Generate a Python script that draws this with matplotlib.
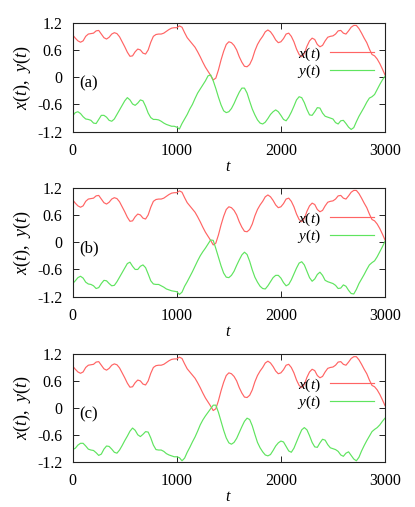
import numpy as np
import matplotlib
matplotlib.use("Agg")
import matplotlib.pyplot as plt

# ---------------- data (step 25 in t) ----------------
t_start, t_stop, t_step = 0, 3000, 25
t = np.arange(t_start, t_stop + t_step, t_step)

x_t = [0.93, 0.86, 0.80, 0.77, 0.80, 0.90, 0.95, 0.96, 0.97, 1.02,
       1.03, 0.95, 0.87, 0.84, 0.88, 0.95, 0.98, 0.96, 0.89, 0.78,
       0.67, 0.55, 0.46, 0.47, 0.56, 0.62, 0.60, 0.53, 0.51, 0.60,
       0.77, 0.90, 0.94, 0.95, 0.95, 0.97, 1.01, 1.05, 1.08, 1.09,
       1.09, 1.13, 1.10, 0.98, 0.87, 0.80, 0.73, 0.66, 0.56, 0.45,
       0.33, 0.22, 0.13, 0.04, -0.06, -0.02, 0.16, 0.38, 0.57, 0.72,
       0.78, 0.76, 0.70, 0.60, 0.45, 0.33, 0.24, 0.23, 0.28, 0.40,
       0.58, 0.72, 0.82, 0.90, 1.00, 1.04, 1.00, 0.92, 0.82, 0.76,
       0.78, 0.85, 0.95, 0.97, 0.90, 0.78, 0.62, 0.50, 0.45, 0.52,
       0.68, 0.80, 0.86, 0.83, 0.72, 0.67, 0.70, 0.80, 0.88, 0.90,
       0.91, 0.95, 1.02, 1.03, 0.97, 0.95, 1.02, 1.10, 1.14, 1.14,
       1.07, 0.97, 0.86, 0.76, 0.62, 0.50, 0.47, 0.40, 0.30, 0.18,
       0.05]

y_a = [-0.85, -0.78, -0.76, -0.80, -0.87, -0.92, -0.93, -0.95, -1.01, -1.02,
       -0.93, -0.84, -0.84, -0.88, -0.95, -0.97, -0.92, -0.82, -0.72, -0.62,
       -0.52, -0.45, -0.50, -0.59, -0.62, -0.57, -0.50, -0.52, -0.64, -0.79,
       -0.89, -0.93, -0.93, -0.94, -0.97, -1.01, -1.04, -1.06, -1.08, -1.08,
       -1.10, -1.14, -1.02, -0.92, -0.82, -0.70, -0.60, -0.47, -0.35, -0.26,
       -0.17, -0.08, 0.03, 0.05, -0.08, -0.25, -0.44, -0.61, -0.74, -0.78,
       -0.76, -0.69, -0.58, -0.45, -0.33, -0.24, -0.24, -0.35, -0.53, -0.70,
       -0.83, -0.94, -1.01, -1.03, -0.99, -0.91, -0.82, -0.76, -0.72, -0.76,
       -0.84, -0.93, -0.96, -0.88, -0.77, -0.64, -0.50, -0.43, -0.45, -0.56,
       -0.71, -0.83, -0.84, -0.76, -0.67, -0.68, -0.79, -0.86, -0.88, -0.90,
       -0.92, -1.00, -1.03, -0.96, -0.95, -1.02, -1.10, -1.15, -1.11, -0.98,
       -0.86, -0.76, -0.66, -0.55, -0.46, -0.43, -0.38, -0.27, -0.16, -0.06,
       0.02]

y_b = [-0.91, -0.85, -0.78, -0.75, -0.79, -0.88, -0.92, -0.93, -0.96, -1.02,
       -1.00, -0.91, -0.84, -0.85, -0.91, -0.96, -0.95, -0.87, -0.77, -0.67,
       -0.57, -0.47, -0.44, -0.53, -0.60, -0.60, -0.53, -0.50, -0.56, -0.70,
       -0.85, -0.92, -0.93, -0.93, -0.96, -0.99, -1.03, -1.05, -1.07, -1.08,
       -1.09, -1.15, -1.10, -0.97, -0.87, -0.76, -0.65, -0.53, -0.41, -0.30,
       -0.21, -0.13, -0.04, 0.05, 0.04, -0.14, -0.33, -0.52, -0.68, -0.77,
       -0.78, -0.73, -0.64, -0.51, -0.39, -0.28, -0.22, -0.27, -0.42, -0.61,
       -0.77, -0.88, -0.97, -1.02, -1.03, -0.96, -0.87, -0.78, -0.73, -0.73,
       -0.79, -0.89, -0.96, -0.93, -0.83, -0.70, -0.57, -0.46, -0.43, -0.50,
       -0.64, -0.78, -0.86, -0.81, -0.71, -0.66, -0.73, -0.84, -0.87, -0.89,
       -0.91, -0.95, -1.02, -1.01, -0.94, -0.97, -1.06, -1.13, -1.14, -1.04,
       -0.91, -0.81, -0.71, -0.60, -0.50, -0.45, -0.41, -0.32, -0.21, -0.10,
       0.02]

y_c = [-0.93, -0.90, -0.83, -0.79, -0.79, -0.85, -0.92, -0.94, -0.95, -1.00,
       -1.06, -1.03, -0.92, -0.85, -0.86, -0.92, -0.99, -1.01, -0.94, -0.84,
       -0.73, -0.63, -0.52, -0.45, -0.50, -0.60, -0.64, -0.59, -0.53, -0.54,
       -0.67, -0.83, -0.93, -0.94, -0.94, -0.97, -1.02, -1.05, -1.07, -1.09,
       -1.09, -1.11, -1.18, -1.12, -0.99, -0.88, -0.76, -0.65, -0.52, -0.38,
       -0.27, -0.18, -0.10, -0.02, 0.06, 0.06, -0.10, -0.30, -0.50, -0.67,
       -0.78, -0.81, -0.77, -0.68, -0.55, -0.42, -0.30, -0.23, -0.26, -0.40,
       -0.59, -0.77, -0.89, -0.98, -1.05, -1.07, -1.04, -0.95, -0.85, -0.78,
       -0.74, -0.76, -0.86, -0.96, -0.99, -0.90, -0.76, -0.62, -0.49, -0.44,
       -0.49, -0.62, -0.77, -0.87, -0.88, -0.78, -0.70, -0.72, -0.82, -0.89,
       -0.91, -0.93, -0.97, -1.05, -1.08, -1.01, -0.98, -1.06, -1.14, -1.18,
       -1.10, -0.96, -0.84, -0.73, -0.63, -0.53, -0.48, -0.44, -0.38, -0.30,
       -0.23]

panel_labels = ["(a)", "(b)", "(c)"]
y_series = [y_a, y_b, y_c]
x_ticks = [0, 1000, 2000, 3000]
y_ticks = [-1.2, -0.6, 0, 0.6, 1.2]
y_ticklabels = ["-1.2", "-0.6", "0", "0.6", "1.2"]

# ---------------- style ----------------
plt.rcParams['font.family'] = ['Liberation Serif', 'DejaVu Serif']
plt.rcParams['mathtext.fontset'] = 'custom'
plt.rcParams['mathtext.rm'] = 'Liberation Serif'
plt.rcParams['mathtext.it'] = 'Liberation Serif:italic'

W, H = 415, 507
fig = plt.figure(figsize=(W / 100, H / 100), dpi=100)

# axes boxes in pixels: (left, right, top, bottom)
boxes = [(72.7, 385, 22.7, 131.7), (72.7, 385, 187.7, 296.7), (72.7, 385, 354, 461.7)]

red = '#ff6464'
green = '#5fe45f'
fs = 11.5

for i, (l, r, tp, b) in enumerate(boxes):
    ax = fig.add_axes([l / W, 1 - b / H, (r - l) / W, (b - tp) / H])
    ax.plot(t, x_t, color=red, lw=0.85, label=r'$x(t)$')
    ax.plot(t, y_series[i], color=green, lw=0.85, label=r'$y(t)$')
    ax.set_xlim(0, 3000)
    ax.set_ylim(-1.2, 1.2)
    ax.set_xticks(x_ticks)
    ax.set_yticks(y_ticks)
    ax.set_yticklabels(y_ticklabels)
    ax.tick_params(direction='in', length=4, width=0.6, top=True, right=True,
                   labelsize=fs)
    ax.tick_params(axis='y', pad=7.5)
    ax.tick_params(axis='x', pad=8)
    for s in ax.spines.values():
        s.set_linewidth(0.8)
        s.set_color('#222222')
    ax.set_xlabel(r'$t$', fontsize=fs, labelpad=0)
    ax.set_ylabel(r'$x(t)$,  $y(t)$', fontsize=13, labelpad=3)
    ax.text(0.022, 0.442, panel_labels[i], transform=ax.transAxes,
            fontsize=fs + 0.5, va='center', ha='left')
    ax.legend(loc='upper right', bbox_to_anchor=(0.965, 0.79), frameon=False,
              markerfirst=False, fontsize=11, handlelength=2.9,
              handletextpad=0.6, labelspacing=0.0, borderpad=0,
              borderaxespad=0)

fig.savefig('out.png', dpi=100)
